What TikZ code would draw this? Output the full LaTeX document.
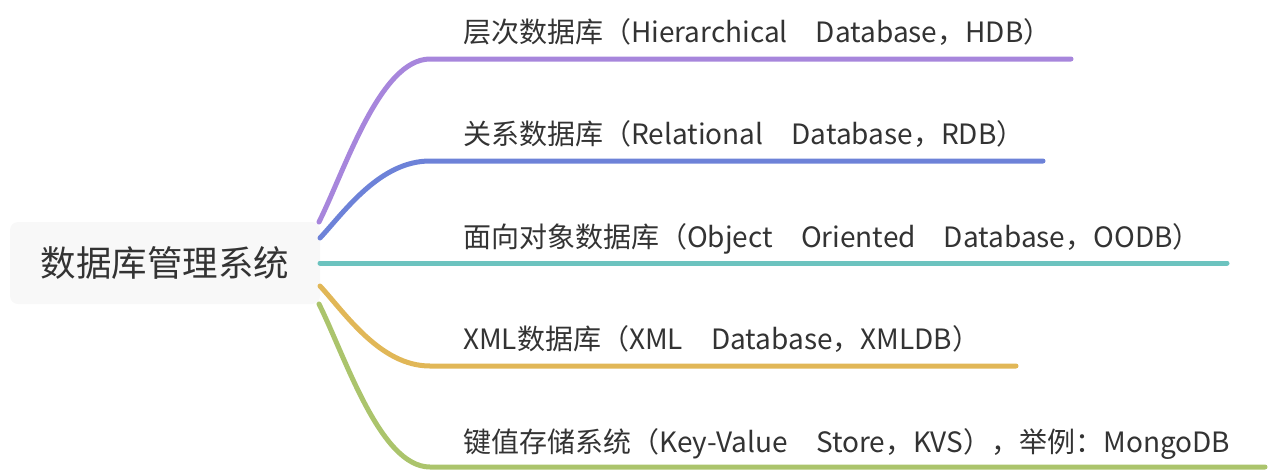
\documentclass[tikz,border=0pt]{standalone}
\usepackage{fontspec}
\setmainfont{Noto Sans CJK SC}
\usetikzlibrary{positioning,calc}
\definecolor{txtgray}{HTML}{333333}
\definecolor{rootfill}{HTML}{F8F8F8}
\definecolor{hdbcol}{HTML}{A786DC}
\definecolor{rdbcol}{HTML}{6D82D8}
\definecolor{oodbcol}{HTML}{6CC3BF}
\definecolor{xmlcol}{HTML}{E1B757}
\definecolor{kvscol}{HTML}{ABC46C}
\tikzset{root/.style={fill=rootfill,rounded corners=8pt,minimum width=310pt,minimum height=82pt,inner sep=0pt,text=txtgray,font=\fontsize{35.5}{40}\selectfont},
         leaf/.style={anchor=base west,inner sep=0pt,text=txtgray,font=\fontsize{28}{32}\selectfont},
         branch/.style={line width=5pt,line cap=round}
}
\begin{document}
\begin{tikzpicture}[x=1pt,y=-1pt]
\useasboundingbox (0,0) rectangle (1274,472);

\node[root] (root) at (165,263) {数据库管理系统};

\node[leaf] (hdb) at (463,42) {层次数据库（Hierarchical　Database，HDB）};
\node[leaf] (rdb) at (463,144) {关系数据库（Relational　Database，RDB）};
\node[leaf] (oodb) at (463,247) {面向对象数据库（Object　Oriented　Database，OODB）};
\node[leaf] (xml) at (463,349) {XML数据库（XML　Database，XMLDB）};
\node[leaf] (kvs) at (463,452) {键值存储系统（Key-Value　Store，KVS），举例：MongoDB};

\coordinate (hdbS) at (319,222);
\coordinate (rdbS) at (320,238);
\coordinate (oodbS) at (320,263);
\coordinate (xmlS) at (320,286);
\coordinate (kvsS) at (319,304);
\coordinate (hdbE) at (1071,59);
\coordinate (rdbE) at (1043,161);
\coordinate (oodbE) at (1227,263);
\coordinate (xmlE) at (1016,366);
\coordinate (kvsE) at (1265,467);

\draw[branch,hdbcol] (hdbS) .. controls (345,170) and (380,59) .. (430,59) -- (hdbE);
\draw[branch,rdbcol] (rdbS) .. controls (345,211) and (380,161) .. (430,161) -- (rdbE);
\draw[branch,oodbcol] (oodbS) -- (oodbE);
\draw[branch,xmlcol] (xmlS) .. controls (345,313) and (380,366) .. (430,366) -- (xmlE);
\draw[branch,kvscol] (kvsS) .. controls (345,356) and (380,467) .. (430,467) -- (kvsE);

\end{tikzpicture}
\end{document}
